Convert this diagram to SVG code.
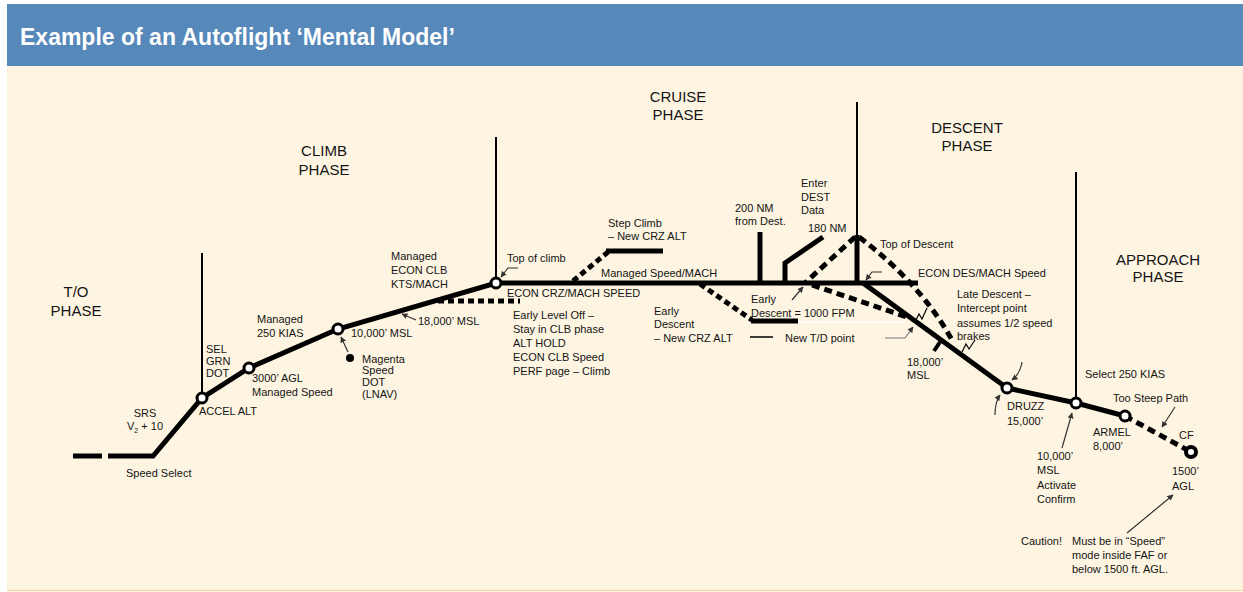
<svg xmlns="http://www.w3.org/2000/svg" width="1243" height="592" viewBox="0 0 1243 592">
<defs>
<style>
.t{font-family:"Liberation Sans",Arial,sans-serif;font-size:11px;fill:#141414}
.ph{font-size:15px;text-anchor:middle}
.title{font-family:"Liberation Sans",Arial,sans-serif;font-size:23px;font-weight:bold;fill:#fff}
.main{stroke:#000;stroke-width:5;fill:none;stroke-linejoin:miter}
.dash{stroke:#000;stroke-width:5;fill:none;stroke-dasharray:8 5}
.sq{stroke:#000;stroke-width:5;fill:none;stroke-dasharray:6 4}
.div{stroke:#000;stroke-width:2;fill:none}
.ptr{stroke:#333;stroke-width:1.2;fill:none;marker-end:url(#ah)}
.gptr{stroke:#777;stroke-width:1.2;fill:none;marker-end:url(#ah)}
.zz{stroke:#000;stroke-width:1.2;fill:none}
.node{fill:#fff;stroke:#000;stroke-width:3}
</style>
<marker id="ah" viewBox="0 0 10 10" refX="9" refY="5" markerWidth="6" markerHeight="6" orient="auto" markerUnits="userSpaceOnUse">
<path d="M0,0 L10,5 L0,10 z" fill="#333"/>
</marker>
</defs>
<rect x="0" y="0" width="1243" height="592" fill="#ffffff"/>
<rect x="7" y="66" width="1236" height="525" fill="#FEF4E2"/>
<line x1="7" y1="590.5" x2="1243" y2="590.5" stroke="#F5D9A6" stroke-width="1.5"/>
<g id="header">
<rect x="7" y="4" width="1236" height="62" fill="#5688BA"/>
<text class="title" x="20" y="45">Example of an Autoflight ‘Mental Model’</text>
</g>

<g id="phases">
<text class="t ph" x="76" y="297">T/O</text><text class="t ph" x="76" y="316">PHASE</text>
<text class="t ph" x="324" y="156">CLIMB</text><text class="t ph" x="324" y="175">PHASE</text>
<text class="t ph" x="678" y="102">CRUISE</text><text class="t ph" x="678" y="120">PHASE</text>
<text class="t ph" x="967" y="133">DESCENT</text><text class="t ph" x="967" y="151">PHASE</text>
<text class="t ph" x="1158" y="265">APPROACH</text><text class="t ph" x="1158" y="282">PHASE</text>
</g>

<g id="connectors">
<line class="div" x1="202" y1="253" x2="202" y2="398"/>
<line class="div" x1="496" y1="137" x2="496" y2="283"/>
<line class="div" x1="857" y1="102" x2="857" y2="236"/>
<line class="div" x1="1076" y1="172" x2="1076" y2="403"/>
<line class="main" x1="73" y1="456" x2="102" y2="456"/>
<polyline class="main" points="108,456 153,456 202,398 249,368 338,329 496,283 918,283"/>
<line class="sq" x1="438" y1="301" x2="520" y2="301"/>
<line class="sq" x1="573" y1="281" x2="608" y2="252"/>
<line class="main" x1="606" y1="251" x2="663" y2="251"/>
<path class="sq" d="M700,284 L752,320"/>
<line class="main" x1="751" y1="321" x2="798" y2="321"/>
<line x1="798" y1="322" x2="905" y2="322" stroke="#fff" stroke-width="1.5"/>
<line x1="750" y1="337" x2="773" y2="337" stroke="#000" stroke-width="1.5"/>
<line class="main" x1="760" y1="283" x2="760" y2="232"/>
<polyline class="main" points="785,283 785,263 823,237"/>
<line class="main" x1="857" y1="235" x2="857" y2="283"/>
<line class="dash" x1="855" y1="237" x2="805" y2="283"/>
<path class="dash" d="M859,237 Q921,284 952,340"/>
<path class="dash" d="M812,285 L907,317"/>
<line class="main" x1="863" y1="283" x2="1007" y2="388"/>
<line stroke="#000" stroke-width="4" x1="934" y1="351" x2="940" y2="342"/>
<polyline class="zz" points="915,322 919,314 922,319 927,308"/>
<polyline class="zz" points="962,352 966,344 969,349 975,340"/>
<polyline class="main" points="1007,388 1076,403 1125,416"/>
<line class="dash" x1="1125" y1="416" x2="1191" y2="452"/>
<polyline class="ptr" points="518,268 508,268 501,277"/>
<line class="ptr" x1="348" y1="352" x2="341" y2="337"/>
<line class="ptr" x1="416" y1="320" x2="402" y2="314"/>
<line class="ptr" x1="792" y1="300" x2="803" y2="287"/>
<polyline class="ptr" points="882,272 872,272 866,280"/>
<polyline class="gptr" points="885,338 905,338 913,327"/>
<path class="ptr" d="M1022,362 Q1020,374 1012,380"/>
<path class="ptr" d="M995,415 Q995,402 1000,395"/>
<line class="ptr" x1="1062" y1="448" x2="1072" y2="413"/>
<line class="ptr" x1="1175" y1="407" x2="1162" y2="427"/>
<line class="ptr" x1="1127" y1="533" x2="1173" y2="495"/>
<circle cx="350" cy="358" r="4" fill="#000"/>
</g>

<g id="n-start">
<text class="t" x="145" y="417" text-anchor="middle">SRS</text>
<text class="t" x="145" y="430" text-anchor="middle">V<tspan font-size="7" dy="3">2</tspan><tspan dy="-3"> + 10</tspan></text>
<text class="t" x="126" y="477">Speed Select</text>
</g>
<g id="n-accel">
<circle class="node" cx="202" cy="398" r="5"/>
<text class="t" x="199" y="415">ACCEL ALT</text>
<text class="t" x="206" y="353">SEL</text><text class="t" x="206" y="365">GRN</text><text class="t" x="206" y="377">DOT</text>
</g>
<g id="n-3000">
<circle class="node" cx="249" cy="368" r="5"/>
<text class="t" x="252" y="382">3000’ AGL</text>
<text class="t" x="252" y="396">Managed Speed</text>
<text class="t" x="257" y="323">Managed</text><text class="t" x="257" y="337">250 KIAS</text>
</g>
<g id="n-10000">
<circle class="node" cx="338" cy="329" r="5"/>
<text class="t" x="351" y="337">10,000’ MSL</text>
<text class="t" x="362" y="363">Magenta</text><text class="t" x="362" y="374">Speed</text><text class="t" x="362" y="386">DOT</text><text class="t" x="362" y="398">(LNAV)</text>
<text class="t" x="418" y="325">18,000’ MSL</text>
<text class="t" x="391" y="260">Managed</text><text class="t" x="391" y="274">ECON CLB</text><text class="t" x="391" y="288">KTS/MACH</text>
</g>
<g id="n-toc">
<circle class="node" cx="496" cy="283" r="5"/>
<text class="t" x="507" y="262">Top of climb</text>
<text class="t" x="507" y="297">ECON CRZ/MACH SPEED</text>
<text class="t" x="513" y="319">Early Level Off –</text>
<text class="t" x="513" y="333">Stay in CLB phase</text>
<text class="t" x="513" y="347">ALT HOLD</text>
<text class="t" x="513" y="361">ECON CLB Speed</text>
<text class="t" x="513" y="375">PERF page – Climb</text>
</g>
<g id="n-cruise">
<text class="t" x="608" y="227">Step Climb</text><text class="t" x="608" y="240">– New CRZ ALT</text>
<text class="t" x="601" y="277">Managed Speed/MACH</text>
<text class="t" x="654" y="315">Early</text><text class="t" x="654" y="328">Descent</text><text class="t" x="654" y="342">– New CRZ ALT</text>
<text class="t" x="735" y="212">200 NM</text><text class="t" x="735" y="225">from Dest.</text>
<text class="t" x="801" y="187">Enter</text><text class="t" x="801" y="201">DEST</text><text class="t" x="801" y="214">Data</text>
<text class="t" x="808" y="232">180 NM</text>
<text class="t" x="751" y="303">Early</text><text class="t" x="751" y="317">Descent = 1000 FPM</text>
<text class="t" x="785" y="342">New T/D point</text>
</g>
<g id="n-tod">
<text class="t" x="880" y="248">Top of Descent</text>
<text class="t" x="918" y="277">ECON DES/MACH Speed</text>
<text class="t" x="957" y="298">Late Descent –</text>
<text class="t" x="957" y="312">Intercept point</text>
<text class="t" x="957" y="327">assumes 1/2 speed</text>
<text class="t" x="957" y="340">brakes</text>
<text class="t" x="907" y="366">18,000’</text><text class="t" x="907" y="379">MSL</text>
</g>
<g id="n-druzz">
<circle class="node" cx="1007" cy="388" r="5"/>
<text class="t" x="1007" y="410">DRUZZ</text><text class="t" x="1007" y="425">15,000’</text>
</g>
<g id="n-10000b">
<circle class="node" cx="1076" cy="403" r="5"/>
<text class="t" x="1085" y="378">Select 250 KIAS</text>
<text class="t" x="1037" y="460">10,000’</text><text class="t" x="1037" y="474">MSL</text><text class="t" x="1037" y="489">Activate</text><text class="t" x="1037" y="503">Confirm</text>
</g>
<g id="n-armel">
<circle class="node" cx="1125" cy="416" r="5"/>
<text class="t" x="1113" y="402">Too Steep Path</text>
<text class="t" x="1093" y="436">ARMEL</text><text class="t" x="1093" y="450">8,000’</text>
</g>
<g id="n-cf">
<circle cx="1191" cy="452" r="5" fill="#fff" stroke="#000" stroke-width="4"/>
<text class="t" x="1179" y="439">CF</text>
<text class="t" x="1172" y="475">1500’</text><text class="t" x="1172" y="490">AGL</text>
<text class="t" x="1021" y="545">Caution!</text>
<text class="t" x="1072" y="545">Must be in “Speed”</text>
<text class="t" x="1072" y="559">mode inside FAF or</text>
<text class="t" x="1072" y="573">below 1500 ft. AGL.</text>
</g>
</svg>
